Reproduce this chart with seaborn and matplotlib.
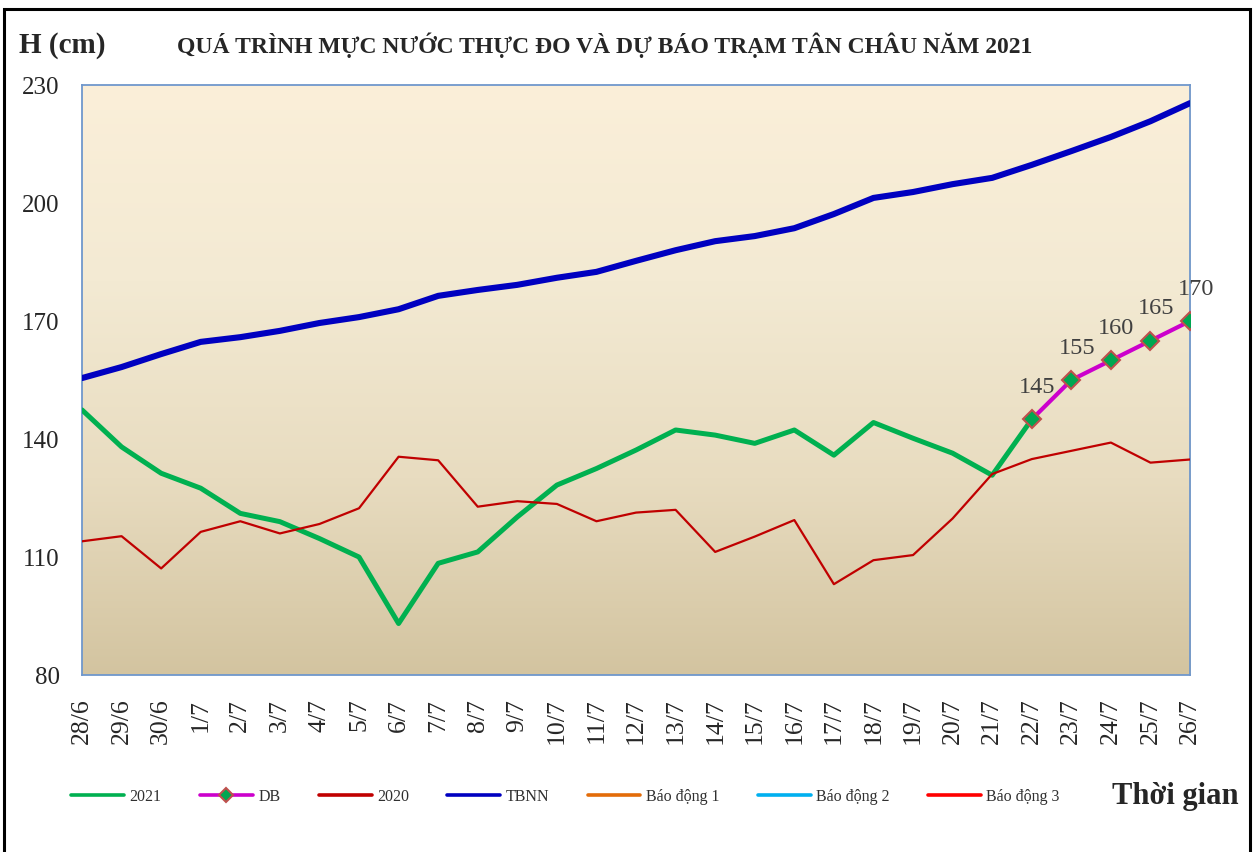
import matplotlib
matplotlib.use("Agg")
import matplotlib.pyplot as plt
import seaborn as sns
import numpy as np
from matplotlib.colors import LinearSegmentedColormap
from matplotlib.patches import Rectangle

sns.set_style("ticks")
plt.rcParams['font.family'] = ['Liberation Serif', 'DejaVu Serif']

# Data (cm)
DAYS = ['28/6', '29/6', '30/6', '1/7', '2/7', '3/7', '4/7', '5/7', '6/7', '7/7',
        '8/7', '9/7', '10/7', '11/7', '12/7', '13/7', '14/7', '15/7', '16/7',
        '17/7', '18/7', '19/7', '20/7', '21/7', '22/7', '23/7', '24/7', '25/7', '26/7']
H2021 = [147.4, 138.0, 131.3, 127.5, 121.1, 119.0, 114.7, 110.0, 93.1, 108.4,
         111.3, 120.2, 128.3, 132.5, 137.2, 142.3, 141.0, 138.9, 142.3, 135.9,
         144.2, 140.2, 136.4, 130.8, 145.0]
DB = [145, 155, 160, 165, 170]
DB_START = 24  # forecast begins on 22/7
H2020 = [114.0, 115.3, 107.1, 116.4, 119.1, 116.0, 118.4, 122.4, 135.5, 134.6,
         122.8, 124.2, 123.5, 119.1, 121.3, 122.0, 111.3, 115.2, 119.4, 103.1,
         109.2, 110.5, 119.8, 131.1, 134.9, 137.0, 139.1, 134.0, 134.8]
TBNN = [155.5, 158.3, 161.6, 164.7, 165.9, 167.5, 169.5, 171.0, 173.0, 176.4,
        177.9, 179.2, 181.0, 182.5, 185.3, 188.0, 190.3, 191.6, 193.6, 197.2,
        201.3, 202.8, 204.8, 206.4, 209.7, 213.2, 216.8, 220.8, 225.4]
ALARMS = {'Báo động 1': 350, 'Báo động 2': 400, 'Báo động 3': 450}

COLORS = {
    '2021': '#00b050',
    'DB': '#cc00cc',
    '2020': '#c00000',
    'TBNN': '#0000c0',
    'Báo động 1': '#e36c09',
    'Báo động 2': '#00b0f0',
    'Báo động 3': '#ff0000',
}

fig = plt.figure(figsize=(12.54, 8.52), dpi=100)
ax = fig.add_axes([0.0654, 0.2077, 0.8836, 0.6925])

# gradient background
bg = LinearSegmentedColormap.from_list('bg', ['#d3c4a0', '#e8dcc0', '#f3ead3', '#fbefd9'])
ax.imshow(np.linspace(0, 1, 256).reshape(-1, 1), cmap=bg, origin='lower',
          extent=[0, 1, 0, 1], transform=ax.transAxes, aspect='auto', zorder=0)

x_all = np.arange(len(DAYS))
sns.lineplot(x=x_all[:len(H2021)], y=H2021, ax=ax, color=COLORS['2021'], lw=3.6, label='2021', zorder=3)
sns.lineplot(x=x_all[DB_START:DB_START + len(DB)], y=DB, ax=ax, color=COLORS['DB'], lw=3,
             marker='D', markersize=9, markerfacecolor='#00a651', markeredgecolor='#c0504d',
             markeredgewidth=1.5, label='DB', zorder=5)
sns.lineplot(x=x_all, y=H2020, ax=ax, color=COLORS['2020'], lw=1.6, label='2020', zorder=4)
sns.lineplot(x=x_all, y=TBNN, ax=ax, color=COLORS['TBNN'], lw=4.4, label='TBNN', zorder=3)
for name, level in ALARMS.items():
    sns.lineplot(x=x_all, y=[level] * len(DAYS), ax=ax, color=COLORS[name], lw=2.5, label=name)

# data labels on forecast
for i, v in enumerate(DB):
    ax.annotate(f'{v}', (DB_START + i, v), xytext=(4, 23), textcoords='offset points',
                ha='center', va='center', fontsize=17.5, color='#404040', zorder=6)

ax.set_xlim(0, len(DAYS) - 1)
ax.set_ylim(80, 230)
ax.set_yticks(range(80, 231, 30))
ax.set_xticks(x_all)
ax.set_xticklabels(DAYS, rotation=90)
ax.tick_params(axis='x', length=0, pad=17, labelsize=18.5)
ax.tick_params(axis='y', length=0, pad=16, labelsize=18)
ax.set_xlabel('')
ax.set_ylabel('')
for s in ax.spines.values():
    s.set_color('#6f97cc')
    s.set_linewidth(1.3)

leg = ax.legend(loc='center', bbox_to_anchor=(0.451, 0.065), bbox_transform=fig.transFigure,
                ncol=7, frameon=False, fontsize=11.5, handlelength=3.3, handletextpad=0.35,
                columnspacing=2.4)
for t in leg.get_texts():
    t.set_color('#303030')
for h in leg.legend_handles:
    h.set_linewidth(2.6)
    if h.get_marker() not in (None, 'None', ''):
        h.set_markersize(7)

fig.text(0.05, 0.947, 'H (cm)', fontsize=21, fontweight='bold', ha='center', va='center')
fig.text(0.482, 0.947, 'QUÁ TRÌNH MỰC NƯỚC THỰC ĐO VÀ DỰ BÁO TRẠM TÂN CHÂU NĂM 2021',
         fontsize=17, fontweight='bold', ha='center', va='center')
fig.text(0.937, 0.065, 'Thời gian', fontsize=22, fontweight='bold', ha='center', va='center')

fig.patches.append(Rectangle((0.003, -0.01), 0.994, 0.9995, transform=fig.transFigure,
                             fill=False, edgecolor='black', lw=2.2))

fig.savefig('out.png', dpi=100)
